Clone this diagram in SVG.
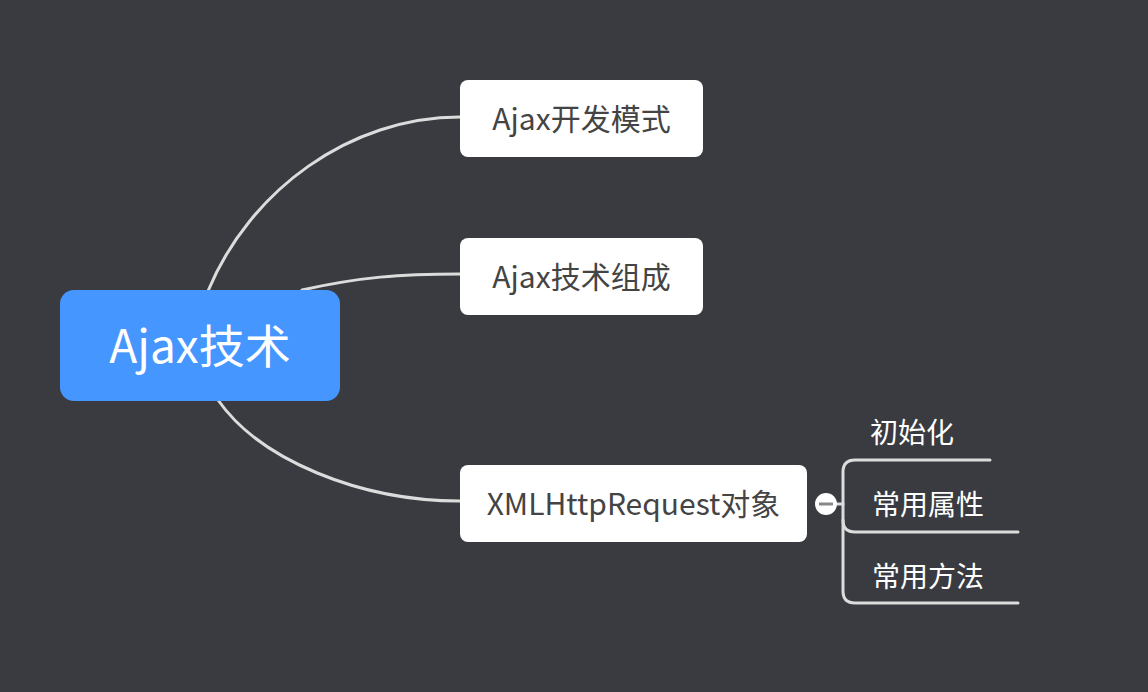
<svg xmlns="http://www.w3.org/2000/svg" width="1148" height="692" viewBox="0 0 1148 692">
<style>
.c{fill:none;stroke:#dcdcdc;stroke-width:3;stroke-linecap:round}
.n{fill:#ffffff}
.t{font-family:"Noto Sans CJK SC","Noto Sans",sans-serif;fill:#444444;font-size:30px}
.s{font-family:"Noto Sans CJK SC","Noto Sans",sans-serif;fill:#ffffff;font-size:28px}
</style>
<rect width="1148" height="692" fill="#393b41"/>
<g id="connectors">
<path class="c" d="M208,291 C250,190 350,117 460,117"/>
<path class="c" d="M302,290 C360,277 400,274 460,274"/>
<path class="c" d="M218,400 C260,460 360,501 460,501"/>
<path class="c" d="M836,504 L843,504"/>
<path class="c" d="M990,460 L855,460 Q843,460 843,472 L843,591 Q843,603 855,603 L1018,603"/>
<path class="c" d="M843,520 Q843,532 855,532 L1018,532"/>
</g>
<g id="root">
<rect x="60" y="290" width="280" height="111" rx="14" fill="#4696ff"/>
<text x="200" y="363" text-anchor="middle" font-family="'Noto Sans CJK SC','Noto Sans',sans-serif" font-size="46" fill="#ffffff">Ajax技术</text>
</g>
<g id="n1">
<rect class="n" x="460" y="80" width="243" height="77" rx="8"/>
<text class="t" x="581.5" y="130" text-anchor="middle">Ajax开发模式</text>
</g>
<g id="n2">
<rect class="n" x="460" y="238" width="243" height="77" rx="8"/>
<text class="t" x="581.5" y="288" text-anchor="middle">Ajax技术组成</text>
</g>
<g id="n3">
<rect class="n" x="460" y="465" width="347" height="77" rx="8"/>
<text class="t" x="633.5" y="515" text-anchor="middle">XMLHttpRequest对象</text>
</g>
<g id="collapse">
<circle cx="826" cy="504" r="11" fill="#ffffff"/>
<rect x="819" y="502.5" width="14" height="3" fill="#888888"/>
</g>
<g id="s1"><text class="s" x="870" y="443">初始化</text></g>
<g id="s2"><text class="s" x="872" y="515">常用属性</text></g>
<g id="s3"><text class="s" x="872" y="587">常用方法</text></g>
</svg>
